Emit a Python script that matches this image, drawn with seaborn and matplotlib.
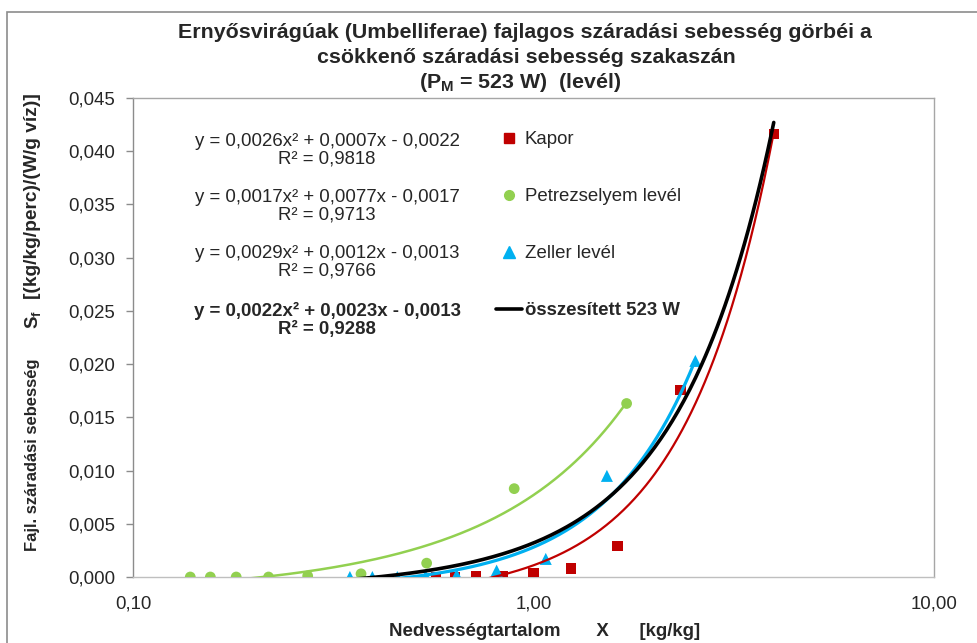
import numpy as np
import pandas as pd
import matplotlib
matplotlib.use("Agg")
import matplotlib.pyplot as plt
import seaborn as sns
from matplotlib.lines import Line2D
from matplotlib.patches import Rectangle
from matplotlib.ticker import FixedLocator, NullLocator, FuncFormatter

# ---------------- data ----------------
kapor_x = [0.570, 0.637, 0.719, 0.838, 1.000, 1.242, 1.622, 2.327, 3.980]
kapor_y = [0.0000, 0.0000, 0.0001, 0.0001, 0.0004, 0.0008, 0.0029, 0.0176, 0.0416]

petr_x = [0.139, 0.156, 0.181, 0.218, 0.273, 0.371, 0.541, 0.895, 1.708]
petr_y = [0.0000, 0.0000, 0.0000, 0.0000, 0.0001, 0.0003, 0.0013, 0.0083, 0.0163]

zeller_x = [0.348, 0.396, 0.457, 0.538, 0.643, 0.809, 1.073, 1.525, 2.536]
zeller_y = [0.0000, 0.0000, 0.0000, 0.0001, 0.0002, 0.0006, 0.0017, 0.0095, 0.0203]

series_names = ["Kapor", "Petrezselyem levél", "Zeller levél"]
total_name = "összesített 523 W"

# trendline coefficients (a, b, c) of y = a x^2 + b x + c, as shown on the chart
coef_kapor = [0.0026, 0.0007, -0.0022]
coef_petr = [0.0017, 0.0077, -0.0017]
coef_zeller = [0.0029, 0.0012, -0.0013]
coef_total = [0.0022, 0.0023, -0.0013]

eq_texts = ["y = 0,0026x² + 0,0007x - 0,0022\nR² = 0,9818",
            "y = 0,0017x² + 0,0077x - 0,0017\nR² = 0,9713",
            "y = 0,0029x² + 0,0012x - 0,0013\nR² = 0,9766",
            "y = 0,0022x² + 0,0023x - 0,0013\nR² = 0,9288"]

x_ticks = [0.1, 1.0, 10.0]
y_ticks = [0.000, 0.005, 0.010, 0.015, 0.020, 0.025, 0.030, 0.035, 0.040, 0.045]

# ---------------- style ----------------
sns.set_style("white")
plt.rcParams['font.family'] = ['Liberation Sans', 'DejaVu Sans']
plt.rcParams['mathtext.fontset'] = 'custom'
plt.rcParams['mathtext.rm'] = 'Liberation Sans'
plt.rcParams['mathtext.bf'] = 'Liberation Sans:bold'
plt.rcParams['mathtext.it'] = 'Liberation Sans:italic'

RED = "#C00000"
GREEN = "#92D050"
BLUE = "#00B0F0"
TXT = "#262626"

W, H = 978, 643
fig = plt.figure(figsize=(W / 100, H / 100), dpi=100)
ax = fig.add_axes([133 / W, 1 - 577 / H, (934 - 133) / W, (577 - 98) / H])

pts = pd.concat([
    pd.DataFrame({"x": kapor_x, "y": kapor_y, "s": series_names[0]}),
    pd.DataFrame({"x": petr_x, "y": petr_y, "s": series_names[1]}),
    pd.DataFrame({"x": zeller_x, "y": zeller_y, "s": series_names[2]}),
])

marker_map = {series_names[0]: "s", series_names[1]: "o", series_names[2]: "^"}
color_map = {series_names[0]: RED, series_names[1]: GREEN, series_names[2]: BLUE}
size_map = {series_names[0]: 55, series_names[1]: 60, series_names[2]: 75}

for name in series_names:
    d = pts[pts.s == name]
    sns.scatterplot(data=d, x="x", y="y", ax=ax, marker=marker_map[name],
                    color=color_map[name], s=size_map[name], edgecolor="none",
                    zorder=3, legend=False)


def trend(xs, coef):
    xx = np.logspace(np.log10(min(xs)), np.log10(max(xs)), 300)
    return xx, coef[0] * xx ** 2 + coef[1] * xx + coef[2]


all_x = kapor_x + petr_x + zeller_x
lines = [(kapor_x, coef_kapor, RED, 1.6),
         (petr_x, coef_petr, GREEN, 1.8),
         (zeller_x, coef_zeller, BLUE, 2.3),
         (all_x, coef_total, "black", 2.6)]
for xs, coef, col, lw in lines:
    xx, yy = trend(xs, coef)
    sns.lineplot(x=xx, y=yy, ax=ax, color=col, lw=lw, zorder=4,
                 sort=False, estimator=None)

ax.set_xscale("log")
ax.set_xlim(0.1, 10)
ax.set_ylim(0, 0.045)
ax.xaxis.set_major_locator(FixedLocator(x_ticks))
ax.xaxis.set_minor_locator(NullLocator())
ax.xaxis.set_major_formatter(FuncFormatter(lambda v, p: f"{v:.2f}".replace(".", ",")))
ax.set_yticks(y_ticks)
ax.yaxis.set_major_formatter(FuncFormatter(lambda v, p: f"{v:.3f}".replace(".", ",")))
ax.tick_params(axis="x", length=0, pad=13, labelsize=13.4, labelcolor=TXT)
ax.tick_params(axis="y", length=5, width=1, color="#8c8c8c", direction="out",
               pad=8, labelsize=13.4, labelcolor=TXT, left=True)
ax.set_xlabel("")
ax.set_ylabel("")
for sp in ax.spines.values():
    sp.set_color("#a6a6a6")
    sp.set_linewidth(1)
ax.spines["left"].set_color("#8c8c8c")
ax.spines["bottom"].set_color("#bfbfbf")

# equations
eq_y = [150, 206, 262, 320]
for i, (t, yy) in enumerate(zip(eq_texts, eq_y)):
    fig.text(327 / W, 1 - yy / H, t, ha="center", va="center", fontsize=13.4,
             color=TXT, fontweight="bold" if i == 3 else "normal",
             linespacing=1.05)

# legend
handles = [Line2D([], [], ls="none", marker="s", color=RED, markersize=7),
           Line2D([], [], ls="none", marker="o", color=GREEN, markersize=7),
           Line2D([], [], ls="none", marker="^", color=BLUE, markersize=8),
           Line2D([], [], color="black", lw=2.6)]
leg = ax.legend(handles, series_names + [total_name], frameon=False,
                loc="upper left", bbox_to_anchor=((496 - 133) / (934 - 133), 1 - (131 - 98) / (577 - 98)),
                fontsize=13.4, labelspacing=2.15, handlelength=1.4, handletextpad=0.15,
                borderaxespad=0, borderpad=0)
for i, t in enumerate(leg.get_texts()):
    t.set_color(TXT)
    if i == 3:
        t.set_fontweight("bold")

# title
fig.text(525 / W, 1 - 33 / H, "Ernyősvirágúak (Umbelliferae) fajlagos száradási sebesség görbéi a",
         ha="center", va="center", fontsize=15.4, fontweight="bold", color=TXT)
fig.text(526 / W, 1 - 57.5 / H, "csökkenő száradási sebesség szakaszán",
         ha="center", va="center", fontsize=15.4, fontweight="bold", color=TXT)
fig.text(520 / W, 1 - 82 / H, r"(P$_\mathbf{M}$ = 523 W)  (levél)",
         ha="center", va="center", fontsize=15.4, fontweight="bold", color=TXT)

# axis labels
fig.text(545 / W, 1 - 631 / H, "Nedvességtartalom       X      [kg/kg]",
         ha="center", va="center", fontsize=13.4, fontweight="bold", color=TXT)
fig.text(33 / W, 1 - 455 / H, "Fajl. száradási sebesség",
         ha="center", va="center", rotation=90, fontsize=11.9, fontweight="bold", color=TXT)
fig.text(33 / W, 1 - 320 / H, r"$\mathbf{S_f}$",
         ha="center", va="center", rotation=90, fontsize=13.4, fontweight="bold", color=TXT)
fig.text(33 / W, 1 - 196.5 / H, "[(kg/kg/perc)/(W/g víz)]",
         ha="center", va="center", rotation=90, fontsize=13.8, fontweight="bold", color=TXT)

# outer chart border
fig.patches.append(Rectangle((7 / W, -0.05), 1.2, 1 - 12 / H + 0.05, transform=fig.transFigure,
                             fill=False, edgecolor="#8c8c8c", lw=1.2, zorder=-1))

fig.savefig("out.png", dpi=100, facecolor="white")
